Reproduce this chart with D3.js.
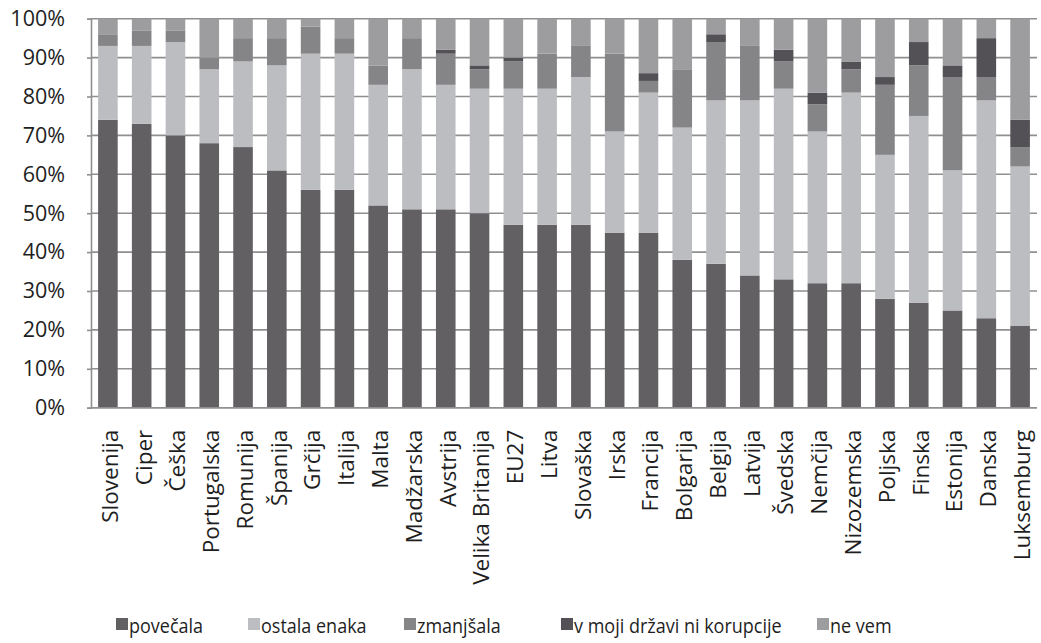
<!DOCTYPE html>
<html>
<head>
<meta charset="utf-8">
<script src="https://cdn.jsdelivr.net/npm/d3@7"></script>
<style>
  body { margin: 0; background: #fff; }
  text { font-family: "Open Sans", sans-serif; fill: #1e1e1e; }
</style>
</head>
<body>
<svg id="chart" width="1041" height="643"></svg>
<script>
const categories = ["Slovenija","Ciper","Češka","Portugalska","Romunija","Španija","Grčija","Italija","Malta","Madžarska","Avstrija","Velika Britanija","EU27","Litva","Slovaška","Irska","Francija","Bolgarija","Belgija","Latvija","Švedska","Nemčija","Nizozemska","Poljska","Finska","Estonija","Danska","Luksemburg"];
const povecala  = [74,73,70,68,67,61,56,56,52,51,51,50,47,47,47,45,45,38,37,34,33,32,32,28,27,25,23,21];
const ostala    = [19,20,24,19,22,27,35,35,31,36,32,32,35,35,38,26,36,34,42,45,49,39,49,37,48,36,56,41];
const zmanjsala = [3,4,3,3,6,7,7,4,5,8,8,5,7,9,8,20,3,15,15,14,7,7,6,18,13,24,6,5];
const vmoji     = [0,0,0,0,0,0,0,0,0,0,1,1,1,0,0,0,2,0,2,0,3,3,2,2,6,3,10,7];
const nevem     = [4,3,3,10,5,5,2,5,12,5,8,12,10,9,7,9,14,13,4,7,8,19,11,15,6,12,5,26];
const seriesNames = ["povečala","ostala enaka","zmanjšala","v moji državi ni korupcije","ne vem"];
const yTicks = [0,10,20,30,40,50,60,70,80,90,100];

const seriesValues = [povecala, ostala, zmanjsala, vmoji, nevem];
const colors = ["#626063","#bcbdc0","#858587","#535155","#9d9d9f"];

const rows = categories.map((c, i) => {
  const r = { cat: c };
  seriesNames.forEach((s, j) => r[s] = seriesValues[j][i]);
  return r;
});

const svg = d3.select("#chart");
const pLeft = 91, pRight = 1037, pTop = 18.7, pBottom = 407.7;

const x = d3.scaleBand().domain(categories).range([pLeft, pRight]).paddingInner(0.42).paddingOuter(0.21);
const y = d3.scaleLinear().domain([0, 100]).range([pBottom, pTop]);

// gridlines
svg.append("g").selectAll("line").data(yTicks).join("line")
  .attr("x1", pLeft).attr("x2", pRight)
  .attr("y1", d => y(d)).attr("y2", d => y(d))
  .attr("stroke", "#8f8f8f").attr("stroke-width", 1.6);

// y axis
const yAxis = d3.axisLeft(y).tickValues(yTicks).tickFormat(d => d + "%").tickSize(4).tickPadding(22);
const gy = svg.append("g").attr("transform", `translate(${pLeft},0)`).call(yAxis);
gy.select(".domain").attr("stroke", "#8f8f8f").attr("stroke-width", 1.6);
gy.selectAll(".tick line").attr("stroke", "#8f8f8f").attr("stroke-width", 1.6);
gy.selectAll(".tick text").attr("font-size", 21.5).attr("font-family", "Open Sans, sans-serif").attr("fill", "#1e1e1e");

// stacked bars
const stack = d3.stack().keys(seriesNames);
const stacked = stack(rows);
svg.append("g").selectAll("g").data(stacked).join("g")
  .attr("fill", (d, i) => colors[i])
  .selectAll("rect").data(d => d).join("rect")
  .attr("x", d => x(d.data.cat))
  .attr("width", x.bandwidth())
  .attr("y", d => y(d[1]))
  .attr("height", d => Math.max(0, y(d[0]) - y(d[1])));

// x axis baseline
svg.append("line").attr("x1", pLeft).attr("x2", pRight).attr("y1", y(0)).attr("y2", y(0))
  .attr("stroke", "#8f8f8f").attr("stroke-width", 1.6);

// x labels
const xAxis = d3.axisBottom(x).tickSize(0).tickPadding(0);
const gx = svg.append("g").attr("transform", `translate(0,${pBottom})`).call(xAxis);
gx.select(".domain").remove();
gx.selectAll(".tick text")
  .attr("font-size", 22.5).attr("font-family", "Open Sans, sans-serif").attr("fill", "#1e1e1e")
  .attr("transform", "rotate(-90)")
  .attr("text-anchor", "end")
  .attr("x", -22).attr("y", 2)
  .attr("dy", "0.35em");

// legend
const legendX = [116, 248, 404, 561, 817];
const lg = svg.append("g").selectAll("g").data(seriesNames).join("g")
  .attr("transform", (d, i) => `translate(${legendX[i]},618)`);
lg.append("rect").attr("width", 12).attr("height", 12).attr("fill", (d, i) => colors[i]);
lg.append("text").attr("transform", "translate(13,15) scale(0.9,1)").attr("font-size", 20).text(d => d);
</script>
</body>
</html>
